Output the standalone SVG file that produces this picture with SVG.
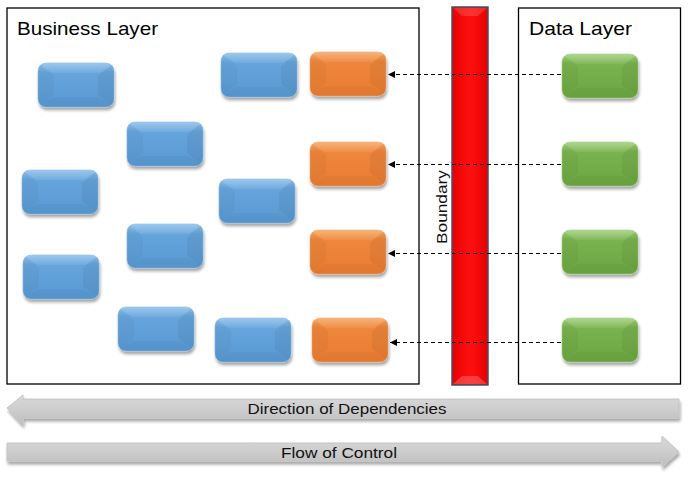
<svg xmlns="http://www.w3.org/2000/svg" xmlns:xlink="http://www.w3.org/1999/xlink" width="688" height="481" viewBox="0 0 688 481">
<defs>
<style>
.layer{fill:#fff;stroke:#000;stroke-width:1.3}
.title{font-family:"Liberation Sans",Arial,sans-serif;font-size:19px;fill:#000}
.lbl{font-family:"Liberation Sans",Arial,sans-serif;font-size:15px;fill:#111}
.conn{stroke:#000;stroke-width:1;stroke-dasharray:4 3;fill:none}
.blue{fill:url(#gBlue);stroke:#8dbbe6;stroke-width:0.6}
.orange{fill:url(#gOrange);stroke:#f4ad74;stroke-width:0.6}
.green{fill:url(#gGreen);stroke:#a5d283;stroke-width:0.6}
.band{fill:url(#gGray);stroke:#c4c4c4;stroke-width:1}
</style>
<linearGradient id="gBlue" x1="0" y1="0" x2="0" y2="1">
<stop offset="0" stop-color="#94c4ec"/><stop offset="0.22" stop-color="#66a5dc"/><stop offset="1" stop-color="#5898d1"/>
</linearGradient>
<linearGradient id="gOrange" x1="0" y1="0" x2="0" y2="1">
<stop offset="0" stop-color="#f8ae6e"/><stop offset="0.22" stop-color="#ee863b"/><stop offset="1" stop-color="#e97c32"/>
</linearGradient>
<linearGradient id="gGreen" x1="0" y1="0" x2="0" y2="1">
<stop offset="0" stop-color="#a8d585"/><stop offset="0.22" stop-color="#79b34f"/><stop offset="1" stop-color="#6ba641"/>
</linearGradient>
<linearGradient id="gRed" x1="0" y1="0" x2="1" y2="0">
<stop offset="0" stop-color="#e60000"/><stop offset="0.5" stop-color="#ff1010"/><stop offset="1" stop-color="#e60000"/>
</linearGradient>
<linearGradient id="gGray" x1="0" y1="0" x2="0" y2="1">
<stop offset="0" stop-color="#d9d9d9"/><stop offset="0.5" stop-color="#cdcdcd"/><stop offset="1" stop-color="#bdbdbd"/>
</linearGradient>
<filter id="sh" x="-20%" y="-20%" width="140%" height="160%">
<feGaussianBlur in="SourceAlpha" stdDeviation="1.6"/>
<feOffset dx="1" dy="2.5" result="o"/>
<feComponentTransfer><feFuncA type="linear" slope="0.35"/></feComponentTransfer>
<feMerge><feMergeNode/><feMergeNode in="SourceGraphic"/></feMerge>
</filter>
<clipPath id="nodeClip"><rect width="76" height="44" rx="8"/></clipPath>
<g id="bevel" clip-path="url(#nodeClip)">
<polygon points="0,0 76,0 62,10 14,10" fill="#fff" opacity="0.08"/>
<polygon points="0,44 76,44 62,34 14,34" fill="#000" opacity="0.03"/>
<polygon points="0,0 16,13 16,31 0,44" fill="#000" opacity="0.03"/>
<polygon points="76,0 60,13 60,31 76,44" fill="#000" opacity="0.05"/>
</g>
<marker id="ah" markerWidth="8" markerHeight="8" refX="7" refY="4" orient="auto" markerUnits="userSpaceOnUse">
<path d="M0,0.5 L7,4 L0,7.5 Z" fill="#000"/>
</marker>
</defs>

<g id="business-layer">
<rect class="layer" x="7" y="8" width="412" height="376"/>
<text class="title" x="17" y="35" textLength="141" lengthAdjust="spacingAndGlyphs">Business Layer</text>
</g>
<g id="data-layer">
<rect class="layer" x="518.5" y="8" width="162" height="376"/>
<text class="title" x="529" y="35" textLength="103" lengthAdjust="spacingAndGlyphs">Data Layer</text>
</g>

<g id="boundary">
<rect x="452" y="7" width="36" height="378" fill="url(#gRed)" stroke="#45526a" stroke-width="1.5"/>
<polygon points="453,8 487,8 478,16 462,16" fill="#fff" opacity="0.15"/>
<polygon points="453,384 487,384 478,376 462,376" fill="#fff" opacity="0.2"/>
<text class="lbl" transform="translate(447,207) rotate(-90)" text-anchor="middle" textLength="74" lengthAdjust="spacingAndGlyphs">Boundary</text>
</g>

<g id="b1" filter="url(#sh)" transform="translate(38,63)"><rect class="blue" width="76" height="44" rx="8"/><use xlink:href="#bevel"/></g>
<g id="b2" filter="url(#sh)" transform="translate(221,53)"><rect class="blue" width="76" height="44" rx="8"/><use xlink:href="#bevel"/></g>
<g id="b3" filter="url(#sh)" transform="translate(127,122)"><rect class="blue" width="76" height="44" rx="8"/><use xlink:href="#bevel"/></g>
<g id="b4" filter="url(#sh)" transform="translate(22,170)"><rect class="blue" width="76" height="44" rx="8"/><use xlink:href="#bevel"/></g>
<g id="b5" filter="url(#sh)" transform="translate(219,179)"><rect class="blue" width="76" height="44" rx="8"/><use xlink:href="#bevel"/></g>
<g id="b6" filter="url(#sh)" transform="translate(127,224)"><rect class="blue" width="76" height="44" rx="8"/><use xlink:href="#bevel"/></g>
<g id="b7" filter="url(#sh)" transform="translate(23,255)"><rect class="blue" width="76" height="44" rx="8"/><use xlink:href="#bevel"/></g>
<g id="b8" filter="url(#sh)" transform="translate(118,307)"><rect class="blue" width="76" height="44" rx="8"/><use xlink:href="#bevel"/></g>
<g id="b9" filter="url(#sh)" transform="translate(215,318)"><rect class="blue" width="76" height="44" rx="8"/><use xlink:href="#bevel"/></g>

<g id="o1" filter="url(#sh)" transform="translate(310,52)"><rect class="orange" width="76" height="44" rx="8"/><use xlink:href="#bevel"/></g>
<g id="o2" filter="url(#sh)" transform="translate(310,142)"><rect class="orange" width="76" height="44" rx="8"/><use xlink:href="#bevel"/></g>
<g id="o3" filter="url(#sh)" transform="translate(310,230)"><rect class="orange" width="76" height="44" rx="8"/><use xlink:href="#bevel"/></g>
<g id="o4" filter="url(#sh)" transform="translate(312,318)"><rect class="orange" width="76" height="44" rx="8"/><use xlink:href="#bevel"/></g>

<g id="g1" filter="url(#sh)" transform="translate(562,54)"><rect class="green" width="76" height="44" rx="8"/><use xlink:href="#bevel"/></g>
<g id="g2" filter="url(#sh)" transform="translate(562,142)"><rect class="green" width="76" height="44" rx="8"/><use xlink:href="#bevel"/></g>
<g id="g3" filter="url(#sh)" transform="translate(562,230)"><rect class="green" width="76" height="44" rx="8"/><use xlink:href="#bevel"/></g>
<g id="g4" filter="url(#sh)" transform="translate(562,318)"><rect class="green" width="76" height="44" rx="8"/><use xlink:href="#bevel"/></g>

<g id="connectors">
<line class="conn" x1="561" y1="74.5" x2="388" y2="74.5" marker-end="url(#ah)"/>
<line class="conn" x1="561" y1="164.5" x2="388" y2="164.5" marker-end="url(#ah)"/>
<line class="conn" x1="561" y1="253.5" x2="388" y2="253.5" marker-end="url(#ah)"/>
<line class="conn" x1="561" y1="342.5" x2="390" y2="342.5" marker-end="url(#ah)"/>
</g>

<g id="direction-of-dependencies">
<path class="band" filter="url(#sh)" d="M7,408 L23,395 L23,399 L679,399 L679,418 L23,418 L23,425 Z"/>
<text class="lbl" x="347" y="413.5" text-anchor="middle" textLength="199" lengthAdjust="spacingAndGlyphs">Direction of Dependencies</text>
</g>
<g id="flow-of-control">
<path class="band" filter="url(#sh)" d="M7,443 L662,443 L662,436 L679,452 L662,467 L662,461 L7,461 Z"/>
<text class="lbl" x="339" y="457.5" text-anchor="middle" textLength="116" lengthAdjust="spacingAndGlyphs">Flow of Control</text>
</g>
</svg>
